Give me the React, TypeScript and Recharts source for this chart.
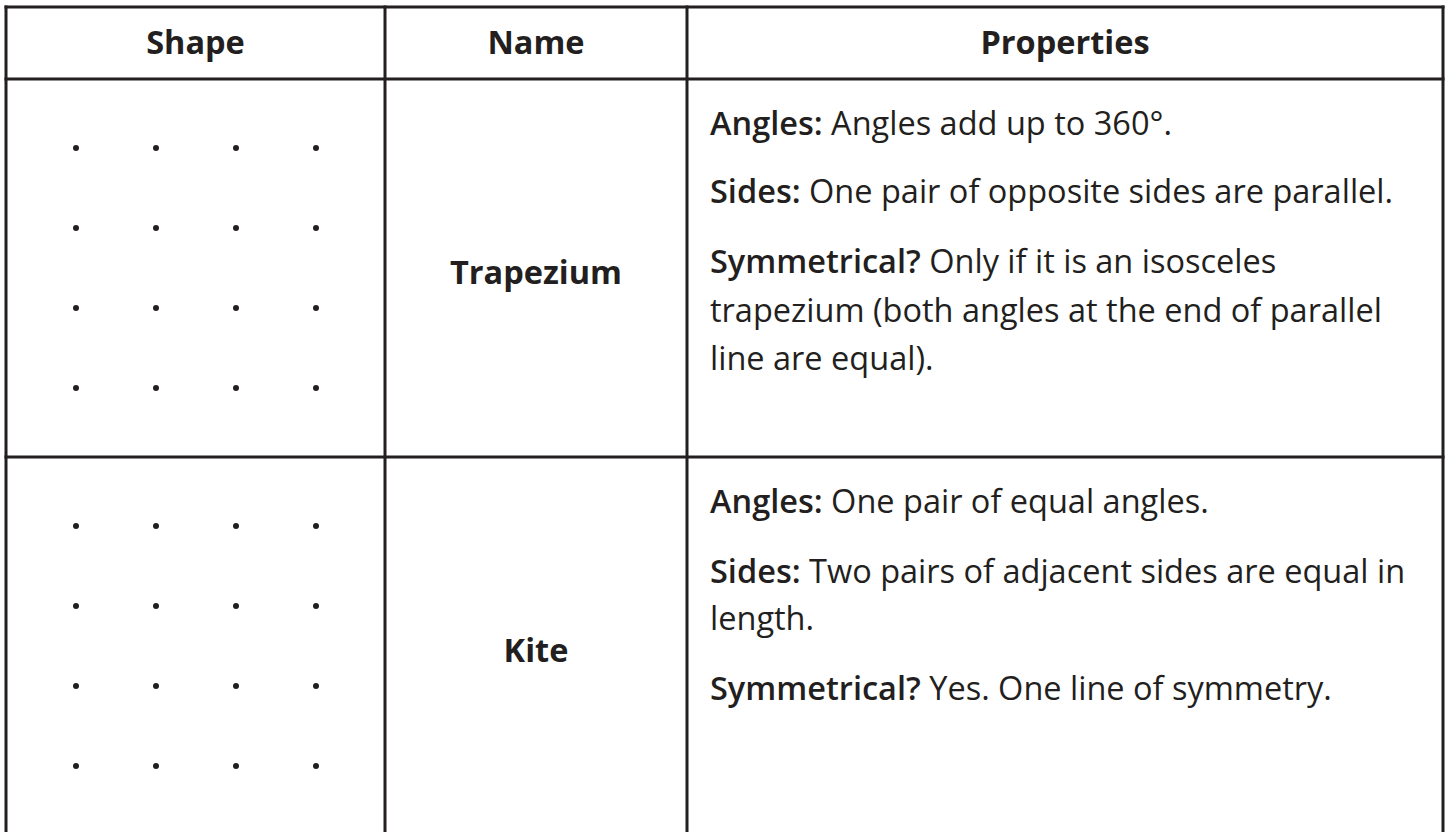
import { ScatterChart, Scatter, XAxis, YAxis } from 'recharts';

// Dot grid in the "Shape" column (4 x 4 in each row)
const dotColumns = [1, 2, 3, 4];
const dotRows = [1, 2, 3, 4];

const headers = ['Shape', 'Name', 'Properties'];
const shapeNames = ['Trapezium', 'Kite'];

// Each property line: bold lead-in + plain text
const trapeziumProps = [
  { bold: 'Angles:', text: ' Angles add up to 360°.' },
  { bold: 'Sides:', text: ' One pair of opposite sides are parallel.' },
  { bold: 'Symmetrical?', text: ' Only if it is an isosceles' },
  { bold: '', text: 'trapezium (both angles at the end of parallel' },
  { bold: '', text: 'line are equal).' },
];
const kiteProps = [
  { bold: 'Angles:', text: ' One pair of equal angles.' },
  { bold: 'Sides:', text: ' Two pairs of adjacent sides are equal in' },
  { bold: '', text: 'length.' },
  { bold: 'Symmetrical?', text: ' Yes. One line of symmetry.' },
];

const INK = '#231f20';
const FONT = '"Open Sans", Lato, sans-serif';
const SIZE = 32.5;

// layout of the table
const COLS = [6, 385, 687, 1443];
const HEADER_TOP = 7;
const HEADER_BOTTOM = 79;
const ROW_BOTTOM = [457, 840];
const TEXT_X = 710;
const trapeziumBaselines = [135, 203, 273, 322, 370];
const kiteBaselines = [513, 583, 630, 700];

const dotData = dotRows.flatMap((r) => dotColumns.map((c) => ({ col: c, row: r })));

function DotGrid({ top }: { top: number }) {
  return (
    <div style={{ position: 'absolute', left: COLS[0], top, width: 379, height: 378 }}>
      <ScatterChart width={379} height={378} margin={{ top: 29, right: 29, bottom: 29, left: 30 }}>
        <XAxis type="number" dataKey="col" domain={[0.5, 4.5]} hide />
        <YAxis type="number" dataKey="row" domain={[0.5, 4.5]} reversed hide />
        <Scatter
          data={dotData}
          isAnimationActive={false}
          shape={(p: any) => <circle cx={p.cx} cy={p.cy} r={3} fill={INK} />}
        />
      </ScatterChart>
    </div>
  );
}

function PropLines({ lines, baselines }: { lines: { bold: string; text: string }[]; baselines: number[] }) {
  return (
    <>
      {lines.map((l, i) => (
        <text key={i} x={TEXT_X} y={baselines[i]} fontSize={SIZE} fill={INK} fontFamily={FONT}>
          {l.bold && <tspan fontWeight={600}>{l.bold}</tspan>}
          <tspan>{l.text}</tspan>
        </text>
      ))}
    </>
  );
}

export default function App() {
  const colCenters = [0, 1, 2].map((i) => (COLS[i] + COLS[i + 1]) / 2);
  return (
    <div style={{ position: 'absolute', left: 0, top: 0, width: 1450, height: 832, overflow: 'hidden', background: '#fff' }}>
      <svg width={1450} height={832} style={{ position: 'absolute', left: 0, top: 0 }}>
        {/* horizontal rules */}
        {[HEADER_TOP, HEADER_BOTTOM, ROW_BOTTOM[0]].map((y) => (
          <line key={y} x1={COLS[0] - 1.5} x2={COLS[3] + 1.5} y1={y} y2={y} stroke={INK} strokeWidth={3} />
        ))}
        {/* vertical rules */}
        {COLS.map((x) => (
          <line key={x} x1={x} x2={x} y1={HEADER_TOP - 1.5} y2={840} stroke={INK} strokeWidth={3} />
        ))}
        {headers.map((h, i) => (
          <text key={h} x={colCenters[i]} y={54} textAnchor="middle" fontSize={SIZE} fontWeight={700} fill={INK} fontFamily={FONT}>
            {h}
          </text>
        ))}
        {shapeNames.map((n, i) => (
          <text key={n} x={colCenters[1]} y={i === 0 ? 284 : 662} textAnchor="middle" fontSize={SIZE} fontWeight={700} fill={INK} fontFamily={FONT}>
            {n}
          </text>
        ))}
        <PropLines lines={trapeziumProps} baselines={trapeziumBaselines} />
        <PropLines lines={kiteProps} baselines={kiteBaselines} />
      </svg>
      <DotGrid top={HEADER_BOTTOM} />
      <DotGrid top={ROW_BOTTOM[0]} />
    </div>
  );
}
